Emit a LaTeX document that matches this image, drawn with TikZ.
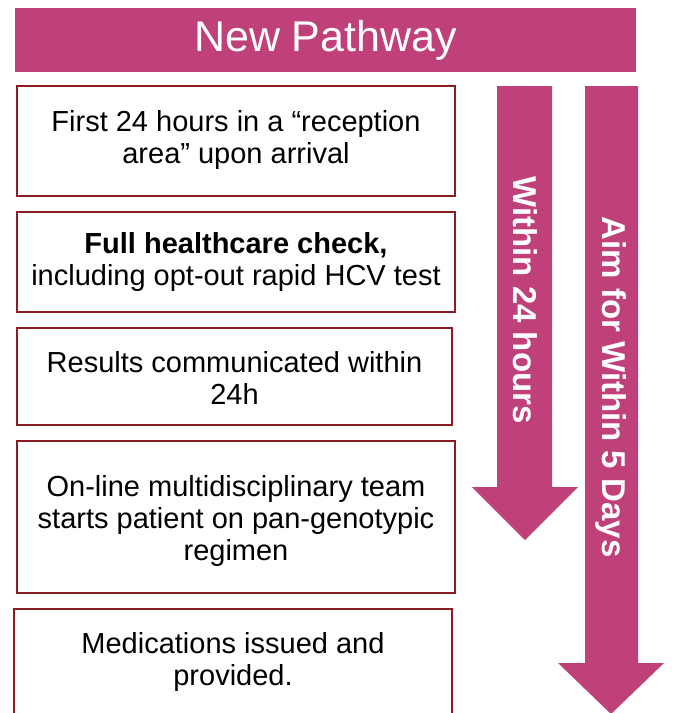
\documentclass[tikz,border=0pt]{standalone}
\usepackage{fontspec}
\setmainfont{Liberation Sans}
\definecolor{pathmag}{RGB}{192,64,122}
\definecolor{boxred}{RGB}{140,28,36}
\begin{document}
\begin{tikzpicture}[x=1pt,y=-1pt,
  stepbox/.style={draw=boxred,line width=1.8pt,fill=white,inner sep=0pt},
  boxtext/.style={font=\fontsize{29}{32}\selectfont,align=center,text=black,inner sep=0pt},
  bannertext/.style={font=\fontsize{43}{48}\selectfont,text=white,inner sep=0pt},
  timearrow/.style={fill=pathmag},
  arrowlabel/.style={font=\fontsize{33}{36}\selectfont\bfseries,text=white,rotate=-90,inner sep=0pt}]
\useasboundingbox (0,0) rectangle (673,713);
\clip (0,0) rectangle (673,713);

% title banner
\fill[pathmag] (15,8) rectangle (636,72);
\node[bannertext] (title) at (325.5,40) {New Pathway};

% pathway steps
\node[stepbox,minimum width=438pt,minimum height=110pt] (b1) at (236,141) {};
\node[stepbox,minimum width=438pt,minimum height=100pt] (b2) at (236,262) {};
\node[stepbox,minimum width=435pt,minimum height=97pt] (b3) at (234.5,376.5) {};
\node[stepbox,minimum width=438pt,minimum height=152pt] (b4) at (236,517) {};
\node[stepbox,minimum width=438pt,minimum height=130pt] (b5) at (233,674) {};

\node[boxtext] (t1) at (236,139.5) {First 24 hours in a “reception\\area” upon arrival};
\node[boxtext] (t2) at (236,261.5) {\textbf{Full healthcare check,}\\including opt-out rapid HCV test};
\node[boxtext] (t3) at (234.5,378) {Results communicated within\\24h};
\node[boxtext] (t4) at (236,520.5) {On-line multidisciplinary team\\starts patient on pan-genotypic\\regimen};
\node[boxtext] (t5) at (233,661.5) {Medications issued and\\provided.};

% time-frame arrows
\fill[timearrow] (497,86) -- (552,86) -- (552,487) -- (578,487) -- (525,540)
  -- (472,487) -- (497,487) -- cycle;
\node[arrowlabel] (a1) at (525,300) {Within 24 hours};
\fill[timearrow] (585,86) -- (638,86) -- (638,663) -- (664,663) -- (611,714)
  -- (558,663) -- (585,663) -- cycle;
\node[arrowlabel] (a2) at (611,387) {Aim for Within 5 Days};
\end{tikzpicture}
\end{document}
